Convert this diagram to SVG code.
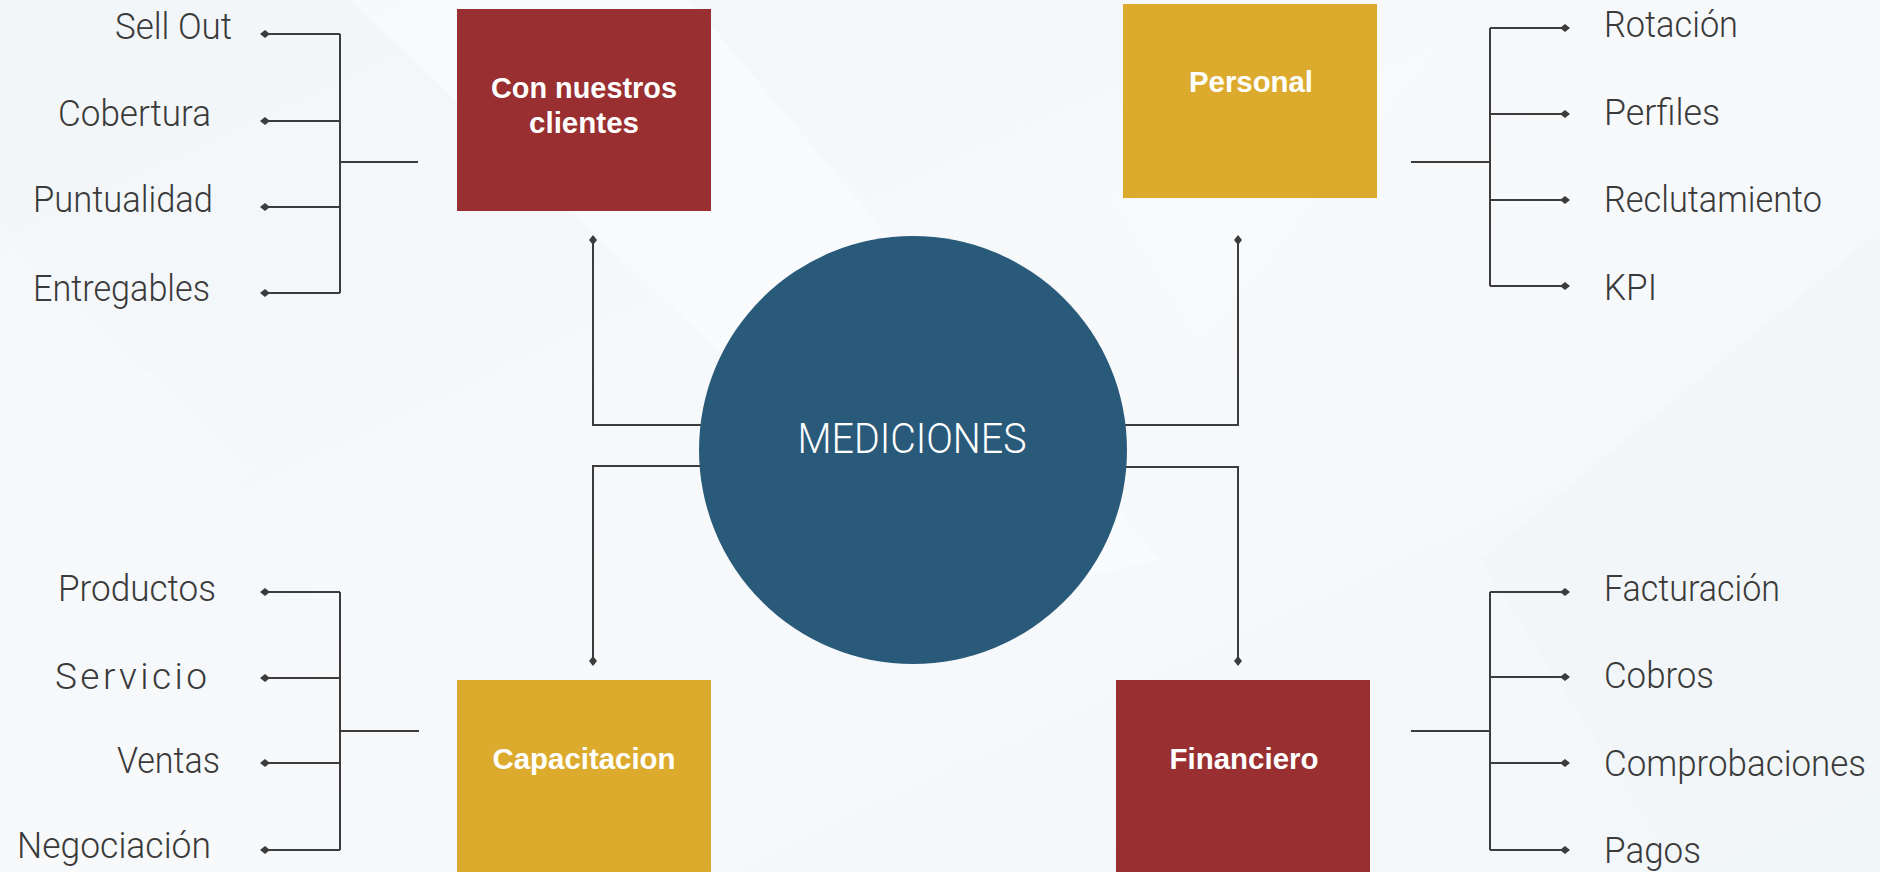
<svg xmlns="http://www.w3.org/2000/svg" width="1880" height="872" viewBox="0 0 1880 872">
  <defs>
    <linearGradient id="bg" x1="0" y1="0" x2="1" y2="1">
      <stop offset="0" stop-color="#f2f6f9"/>
      <stop offset="0.5" stop-color="#f7f9fb"/>
      <stop offset="1" stop-color="#f3f7fa"/>
    </linearGradient>
    <marker id="dot" viewBox="-6 -5 12 10" markerWidth="12" markerHeight="10" refX="0" refY="0" orient="auto" markerUnits="userSpaceOnUse">
      <path d="M-5,0 L0,-4 L5,0 L0,4 Z" fill="#3c3c3c"/>
    </marker>
    <style>
      .ln { fill: none; stroke: #3c3c3c; stroke-width: 2; }
      .dl { marker-start: url(#dot); }
      .lbl { font-family: "Roboto", "Liberation Sans", sans-serif; font-weight: 300; font-size: 37px; fill: #3a3a3a; }
      .ttl { font-family: "Liberation Sans Narrow", "Liberation Sans", sans-serif; font-size: 29px; font-weight: bold; fill: #ffffff; text-anchor: middle; }
      .red { fill: #992f30; }
      .gold { fill: #dcab2e; }
    </style>
  </defs>

  <g id="background">
    <rect width="1880" height="872" fill="url(#bg)"/>
    <polygon points="350,0 690,0 1160,560 980,600" fill="#ffffff" opacity="0.35"/>
    <polygon points="0,230 250,470 0,700" fill="#ffffff" opacity="0.2"/>
    <polygon points="1090,170 1330,0 1480,0 1200,340" fill="#ffffff" opacity="0.2"/>
    <polygon points="1480,560 1880,230 1880,872 1680,872" fill="#eef3f7" opacity="0.35"/>
  </g>

  <g id="connectors">
    <path class="ln dl" d="M265,34 H340"/>
    <path class="ln dl" d="M265,121 H340"/>
    <path class="ln dl" d="M265,207 H340"/>
    <path class="ln dl" d="M265,293 H340"/>
    <path class="ln" d="M340,34 V293 M340,162 H418"/>
    <path class="ln dl" d="M1565,28 H1490"/>
    <path class="ln dl" d="M1565,114 H1490"/>
    <path class="ln dl" d="M1565,200 H1490"/>
    <path class="ln dl" d="M1565,286 H1490"/>
    <path class="ln" d="M1490,28 V286 M1411,162 H1490"/>
    <path class="ln dl" d="M265,592 H340"/>
    <path class="ln dl" d="M265,678 H340"/>
    <path class="ln dl" d="M265,763 H340"/>
    <path class="ln dl" d="M265,850 H340"/>
    <path class="ln" d="M340,592 V850 M340,731 H419"/>
    <path class="ln dl" d="M1565,592 H1490"/>
    <path class="ln dl" d="M1565,677 H1490"/>
    <path class="ln dl" d="M1565,763 H1490"/>
    <path class="ln dl" d="M1565,850 H1490"/>
    <path class="ln" d="M1490,592 V850 M1411,731 H1490"/>
    <path class="ln dl" d="M593,240 V425 H710"/>
    <path class="ln dl" d="M593,661 V466 H710"/>
    <path class="ln dl" d="M1238,240 V425 H1115"/>
    <path class="ln dl" d="M1238,661 V467 H1115"/>
  </g>

  <g id="node-mediciones">
    <circle cx="913" cy="450" r="214" fill="#2a5a7a"/>
    <text x="912" y="453" text-anchor="middle" font-family="Roboto, 'Liberation Sans', sans-serif" font-weight="300" font-size="42" fill="#ffffff" textLength="229" lengthAdjust="spacingAndGlyphs">MEDICIONES</text>
  </g>

  <g id="node-clientes">
    <rect class="red" x="457" y="9" width="254" height="202"/>
    <text class="ttl" x="584" y="98" textLength="186" lengthAdjust="spacingAndGlyphs">Con nuestros</text>
    <text class="ttl" x="584" y="133" textLength="110" lengthAdjust="spacingAndGlyphs">clientes</text>
  </g>

  <g id="node-personal">
    <rect class="gold" x="1123" y="4" width="254" height="194"/>
    <text class="ttl" x="1251" y="92" textLength="124" lengthAdjust="spacingAndGlyphs">Personal</text>
  </g>

  <g id="node-capacitacion">
    <rect class="gold" x="457" y="680" width="254" height="202"/>
    <text class="ttl" x="584" y="769" textLength="183" lengthAdjust="spacingAndGlyphs">Capacitacion</text>
  </g>

  <g id="node-financiero">
    <rect class="red" x="1116" y="680" width="254" height="202"/>
    <text class="ttl" x="1244" y="769" textLength="149" lengthAdjust="spacingAndGlyphs">Financiero</text>
  </g>

  <g id="labels-clientes">
    <text class="lbl" x="115" y="39" textLength="117" lengthAdjust="spacingAndGlyphs">Sell Out</text>
    <text class="lbl" x="58" y="126" textLength="153" lengthAdjust="spacingAndGlyphs">Cobertura</text>
    <text class="lbl" x="33" y="212" textLength="180" lengthAdjust="spacingAndGlyphs">Puntualidad</text>
    <text class="lbl" x="33" y="301" textLength="177" lengthAdjust="spacingAndGlyphs">Entregables</text>
  </g>

  <g id="labels-personal">
    <text class="lbl" x="1604" y="37" textLength="134" lengthAdjust="spacingAndGlyphs">Rotación</text>
    <text class="lbl" x="1604" y="125" textLength="116" lengthAdjust="spacingAndGlyphs">Perfiles</text>
    <text class="lbl" x="1604" y="212" textLength="218" lengthAdjust="spacingAndGlyphs">Reclutamiento</text>
    <text class="lbl" x="1604" y="300" textLength="53" lengthAdjust="spacingAndGlyphs">KPI</text>
  </g>

  <g id="labels-capacitacion">
    <text class="lbl" x="58" y="601" textLength="158" lengthAdjust="spacingAndGlyphs">Productos</text>
    <text class="lbl" x="55" y="689" textLength="152" lengthAdjust="spacing">Servicio</text>
    <text class="lbl" x="117" y="773" textLength="103" lengthAdjust="spacingAndGlyphs">Ventas</text>
    <text class="lbl" x="17" y="858" textLength="194" lengthAdjust="spacingAndGlyphs">Negociación</text>
  </g>

  <g id="labels-financiero">
    <text class="lbl" x="1604" y="601" textLength="176" lengthAdjust="spacingAndGlyphs">Facturación</text>
    <text class="lbl" x="1604" y="688" textLength="110" lengthAdjust="spacingAndGlyphs">Cobros</text>
    <text class="lbl" x="1604" y="776" textLength="262" lengthAdjust="spacingAndGlyphs">Comprobaciones</text>
    <text class="lbl" x="1604" y="863" textLength="97" lengthAdjust="spacingAndGlyphs">Pagos</text>
  </g>
</svg>
